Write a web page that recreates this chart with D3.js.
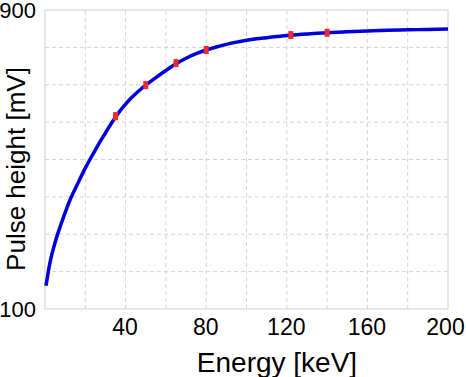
<!DOCTYPE html>
<html lang="en">
  <head>
    <meta charset="utf-8" />
    <title>Pulse height vs Energy</title>
    <script src="https://d3js.org/d3.v7.min.js"></script>
    <style>
      body { margin: 0; background: #fff; }
      text { font-family: "Liberation Sans", Arial, sans-serif; fill: #000; }
    </style>
  </head>
  <body>
    <div id="chart"></div>
    <script>
      // fitted curve
      var curveEnergy = [0.5, 2.5, 5, 7.5, 10, 12.5, 15, 17.5, 20, 22.5, 25, 27.5, 30, 32.5, 35, 37.5, 40, 42.5, 45, 47.5, 50, 55, 60, 65, 70, 75, 80, 85, 90, 95, 100, 105, 110, 115, 120, 125, 130, 135, 140, 150, 160, 170, 180, 190, 200];
      var curvePulse = [162, 225, 278, 320, 358, 393, 422, 450, 477, 502, 526, 549, 571, 593, 613, 632, 648, 663, 676, 688, 699, 719, 738, 756, 771, 783, 793, 801, 808, 814, 819, 823, 826, 829, 832, 834, 836, 838, 839, 842, 844, 846, 847, 848, 849];

      // measured points (red)
      var pointEnergy = [35, 50, 65, 80, 122, 140];
      var pointPulse = [616, 699, 758, 793, 833, 839];

      var xTicks = [40, 80, 120, 160, 200];
      var yTicks = [100, 900];

      var width = 466, height = 377;
      var margin = { left: 45, right: 18, top: 10, bottom: 68 };

      var svg = d3.select("#chart").append("svg")
        .attr("width", width)
        .attr("height", height);

      var x = d3.scaleLinear().domain([0, 200]).range([margin.left, width - margin.right]);
      var y = d3.scaleLinear().domain([100, 900]).range([height - margin.bottom, margin.top]);

      // grid
      svg.append("g")
        .selectAll("line")
        .data(d3.range(20, 200, 20))
        .join("line")
        .attr("x1", function (d) { return x(d); })
        .attr("x2", function (d) { return x(d); })
        .attr("y1", y(100))
        .attr("y2", y(900))
        .attr("stroke", "#d4d4d4")
        .attr("stroke-dasharray", "4,3");

      svg.append("g")
        .selectAll("line")
        .data(d3.range(200, 900, 100))
        .join("line")
        .attr("x1", x(0))
        .attr("x2", x(200))
        .attr("y1", function (d) { return y(d); })
        .attr("y2", function (d) { return y(d); })
        .attr("stroke", "#d4d4d4")
        .attr("stroke-dasharray", "4,3");

      svg.append("rect")
        .attr("x", x(0))
        .attr("y", y(900))
        .attr("width", x(200) - x(0))
        .attr("height", y(100) - y(900))
        .attr("fill", "none")
        .attr("stroke", "#d0d0d0");

      // axes (labels only)
      var xAxis = svg.append("g")
        .attr("transform", "translate(0," + y(100) + ")")
        .call(d3.axisBottom(x).tickValues(xTicks).tickSize(0).tickPadding(10));
      xAxis.select(".domain").remove();
      xAxis.selectAll("text")
        .style("font-size", "23px")
        .attr("fill", "#000")
        .attr("dx", function (d) { return d === 200 ? -3 : -1; });

      var yAxis = svg.append("g")
        .attr("transform", "translate(" + x(0) + ",0)")
        .call(d3.axisLeft(y).tickValues(yTicks).tickSize(0).tickPadding(9));
      yAxis.select(".domain").remove();
      yAxis.selectAll("text").style("font-size", "22px").attr("fill", "#000");

      // titles
      svg.append("text")
        .attr("x", 277)
        .attr("y", 372)
        .attr("text-anchor", "middle")
        .style("font-size", "28px")
        .text("Energy [keV]");

      svg.append("text")
        .attr("transform", "translate(25,169) rotate(-90)")
        .attr("text-anchor", "middle")
        .style("font-size", "26px")
        .text("Pulse height [mV]");

      // curve
      var curve = curveEnergy.map(function (e, i) { return [e, curvePulse[i]]; });
      svg.append("path")
        .datum(curve)
        .attr("fill", "none")
        .attr("stroke", "#0000dd")
        .attr("stroke-width", 3.5)
        .attr("stroke-linejoin", "round")
        .attr("d", d3.line()
          .curve(d3.curveMonotoneX)
          .x(function (d) { return x(d[0]); })
          .y(function (d) { return y(d[1]); }));

      // points
      svg.append("g")
        .selectAll("rect")
        .data(pointEnergy)
        .join("rect")
        .attr("x", function (d) { return x(d) - 2.5; })
        .attr("y", function (d, i) { return y(pointPulse[i]) - 4; })
        .attr("width", 5)
        .attr("height", 8)
        .attr("fill", "#ee2a2a");
    </script>
  </body>
</html>
